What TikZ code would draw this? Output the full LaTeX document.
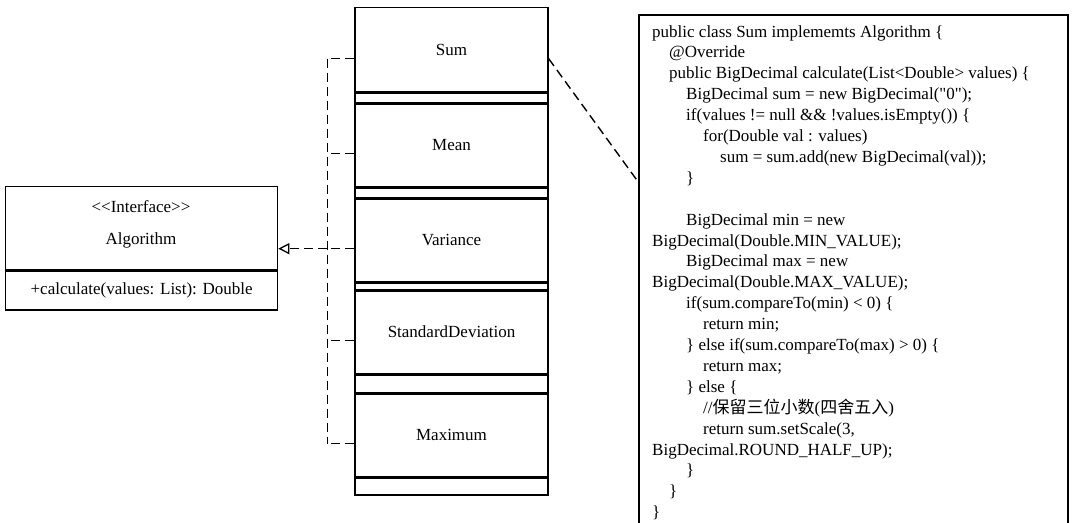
\documentclass[tikz,border=0pt]{standalone}
\usepackage{fontspec}
\setmainfont{Liberation Serif}[Ligatures=TeXOff]
\newfontfamily\cjk{Noto Sans CJK SC}
\usepackage{tikz}
\usetikzlibrary{arrows.meta,positioning,calc}

\begin{document}
\begin{tikzpicture}[x=1pt, y=-1pt,
    font=\fontsize{17}{20.9}\selectfont,
    umlbox/.style={draw, line width=1.3pt, inner sep=0pt},
    dep/.style={line width=1.4pt, dash pattern=on 9pt off 5pt}]
\useasboundingbox (0,0) rectangle (1073,522);

    % Interface
    \node[umlbox, minimum width=272pt, minimum height=83pt, anchor=north west] (algo) at (5,186) {};
    \node (stereo) at (141,207) {<<Interface>>};
    \node (algoname) at (141,240) {Algorithm};
    \node[umlbox, minimum width=272pt, minimum height=39pt, anchor=north] (algoops) at (algo.south) {+calculate(values: List): Double};

    % Implementations
    \foreach \cls/\ytop/\gap in {Sum/7/11, Mean/102/11, Variance/197/8, StandardDeviation/289/19, Maximum/392/17} {
        \node[umlbox, minimum width=193pt, minimum height=84pt, anchor=north] (\cls) at (451.5,\ytop) {\cls};
        \node[umlbox, minimum width=193pt, minimum height=\gap pt, anchor=north] (\cls-attr) at (\cls.south) {};
    }

    % Realization
    \foreach \cls in {Sum,Mean,Variance,StandardDeviation,Maximum} {
        \draw[dep] ($(\cls.west)+(0,9)$) -- ++(-27,0) coordinate (\cls-bus);
    }
    \draw[dep] (Sum-bus) -- (Maximum-bus);
    \draw[dep, -{Triangle[open, length=11pt, width=11pt, line width=1.3pt]}] (Variance-bus) -- (algo.east |- Variance-bus);

    % Note
    \draw[line width=1.3pt] (639,530) -- (639,15) -- (1068,15) -- (1068,530);
    \node[anchor=north west, align=left, inner sep=0pt] (code) at (652,25) {%
public class Sum implememts Algorithm \{\\
\hspace*{17pt}@Override\\
\hspace*{17pt}public BigDecimal calculate(List<Double> values) \{\\
\hspace*{34pt}BigDecimal sum = new BigDecimal("0");\\
\hspace*{34pt}if(values != null \&\& !values.isEmpty()) \{\\
\hspace*{51pt}for(Double val : values)\\
\hspace*{68pt}sum = sum.add(new BigDecimal(val));\\
\hspace*{34pt}\}\\[20.9pt]
\hspace*{34pt}BigDecimal min = new\\
BigDecimal(Double.MIN\_VALUE);\\
\hspace*{34pt}BigDecimal max = new\\
BigDecimal(Double.MAX\_VALUE);\\
\hspace*{34pt}if(sum.compareTo(min) < 0) \{\\
\hspace*{51pt}return min;\\
\hspace*{34pt}\} else if(sum.compareTo(max) > 0) \{\\
\hspace*{51pt}return max;\\
\hspace*{34pt}\} else \{\\
\hspace*{51pt}//{\cjk 保留三位小数}({\cjk 四舍五入})\\
\hspace*{51pt}return sum.setScale(3,\\
BigDecimal.ROUND\_HALF\_UP);\\
\hspace*{34pt}\}\\
\hspace*{17pt}\}\\
\}};
    \coordinate (notepin) at (639,183);
    \draw[dep] ($(Sum.east)+(0,9)$) -- (notepin);
\end{tikzpicture}
\end{document}
